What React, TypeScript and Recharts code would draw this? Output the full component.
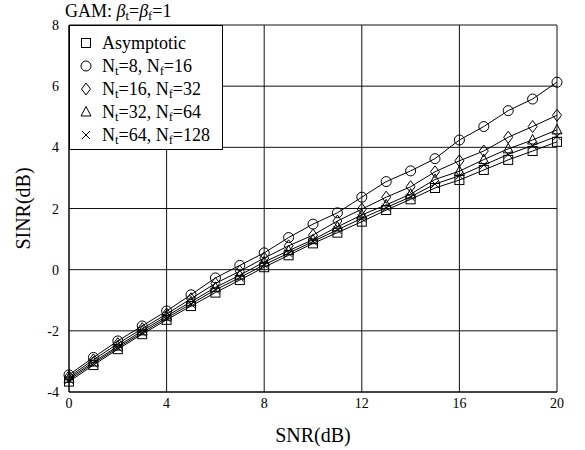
import { LineChart, Line, XAxis, YAxis, CartesianGrid, Legend } from "recharts";

const snr = [0, 1, 2, 3, 4, 5, 6, 7, 8, 9, 10, 11, 12, 13, 14, 15, 16, 17, 18, 19, 20];
const asymptotic = [-3.66, -3.12, -2.6, -2.11, -1.64, -1.19, -0.75, -0.34, 0.08, 0.47, 0.86, 1.21, 1.57, 1.95, 2.3, 2.67, 2.93, 3.26, 3.59, 3.88, 4.18];
const n8 = [-3.44, -2.87, -2.33, -1.84, -1.35, -0.82, -0.27, 0.14, 0.55, 1.05, 1.49, 1.86, 2.37, 2.88, 3.23, 3.63, 4.24, 4.68, 5.2, 5.58, 6.13];
const n16 = [-3.5, -2.95, -2.42, -1.93, -1.45, -0.95, -0.45, -0.05, 0.38, 0.78, 1.13, 1.59, 1.98, 2.37, 2.71, 3.2, 3.56, 3.88, 4.33, 4.68, 5.05];
const n32 = [-3.55, -3.02, -2.5, -2.0, -1.52, -1.05, -0.58, -0.18, 0.25, 0.62, 0.98, 1.4, 1.79, 2.12, 2.47, 2.95, 3.22, 3.6, 3.95, 4.24, 4.57];
const n64 = [-3.6, -3.07, -2.55, -2.06, -1.58, -1.12, -0.66, -0.26, 0.16, 0.54, 0.92, 1.3, 1.68, 2.03, 2.38, 2.8, 3.07, 3.42, 3.77, 4.06, 4.36];

const xTicks = [0, 4, 8, 12, 16, 20];
const yTicks = [-4, -2, 0, 2, 4, 6, 8];

const SERIF = "Liberation Serif";

const data = snr.map((x, i) => ({
  snr: x,
  asym: asymptotic[i],
  n8: n8[i],
  n16: n16[i],
  n32: n32[i],
  n64: n64[i],
}));

type Shape = "square" | "circle" | "diamond" | "triangle" | "cross";

function Marker({ cx, cy, shape }: { cx: number; cy: number; shape: Shape }) {
  const s = { fill: "none", stroke: "#000", strokeWidth: 1 };
  if (shape === "square") return <rect x={cx - 4.5} y={cy - 4.5} width={9} height={9} {...s} />;
  if (shape === "circle") return <circle cx={cx} cy={cy} r={5} {...s} />;
  if (shape === "diamond")
    return <polygon points={`${cx},${cy - 6} ${cx + 4.5},${cy} ${cx},${cy + 6} ${cx - 4.5},${cy}`} {...s} />;
  if (shape === "triangle")
    return <polygon points={`${cx},${cy - 5.5} ${cx + 5},${cy + 4} ${cx - 5},${cy + 4}`} {...s} />;
  return (
    <path d={`M${cx - 4},${cy - 4}L${cx + 4},${cy + 4}M${cx - 4},${cy + 4}L${cx + 4},${cy - 4}`} {...s} />
  );
}

const series: { key: string; shape: Shape; label: React.ReactNode }[] = [
  { key: "asym", shape: "square", label: "Asymptotic" },
  { key: "n8", shape: "circle", label: <>N<sub>t</sub>=8, N<sub>f</sub>=16</> },
  { key: "n16", shape: "diamond", label: <>N<sub>t</sub>=16, N<sub>f</sub>=32</> },
  { key: "n32", shape: "triangle", label: <>N<sub>t</sub>=32, N<sub>f</sub>=64</> },
  { key: "n64", shape: "cross", label: <>N<sub>t</sub>=64, N<sub>f</sub>=128</> },
];

function LegendBox() {
  return (
    <div
      style={{
        border: "1px solid #000",
        background: "#fff",
        width: 154,
        height: 125,
        boxSizing: "border-box",
        paddingTop: 5,
        fontSize: 18,
        fontFamily: SERIF,
        color: "#000",
      }}
    >
      {series.map((s) => (
        <div key={s.key} style={{ display: "flex", alignItems: "center", height: 23, lineHeight: "18px" }}>
          <svg width={32} height={16} style={{ flex: "none" }}>
            <Marker cx={16} cy={8} shape={s.shape} />
          </svg>
          <span style={{ whiteSpace: "nowrap" }}>{s.label}</span>
        </div>
      ))}
    </div>
  );
}

function XTick({ x, y, payload }: any) {
  return (
    <text x={x} y={y + 16} textAnchor="middle" fontFamily={SERIF} fontSize={14} fill="#000">
      {payload.value}
    </text>
  );
}

function YTick({ x, y, payload }: any) {
  return (
    <text x={x - 1} y={y + 5} textAnchor="end" fontFamily={SERIF} fontSize={14} fill="#000">
      {payload.value}
    </text>
  );
}

function YLabel({ viewBox }: any) {
  const cx = 30;
  const cy = viewBox.y + viewBox.height / 2;
  return (
    <text x={cx} y={cy} transform={`rotate(-90 ${cx} ${cy})`} textAnchor="middle" fontFamily={SERIF} fontSize={20} fill="#000">
      SINR(dB)
    </text>
  );
}

function XLabel({ viewBox }: any) {
  const cx = viewBox.x + viewBox.width / 2;
  return (
    <text x={cx} y={442} textAnchor="middle" fontFamily={SERIF} fontSize={20} fill="#000">
      SNR(dB)
    </text>
  );
}

export default function App() {
  return (
    <div style={{ position: "absolute", left: 0, top: 0, width: 585, height: 450, background: "#fff", fontFamily: SERIF }}>
      <style>{`sub{font-size:0.7em;vertical-align:-0.25em;line-height:0}`}</style>
      <div style={{ position: "absolute", left: 65, top: 1, fontSize: 18, color: "#000", zIndex: 2, whiteSpace: "nowrap" }}>
        GAM: <i>β</i><sub>t</sub>=<i>β</i><sub>f</sub>=1
      </div>
      <LineChart width={585} height={450} data={data} margin={{ top: 25, right: 28, bottom: 0, left: 0 }}>
        <CartesianGrid stroke="#111" strokeWidth={1} />
        <XAxis
          dataKey="snr"
          type="number"
          domain={[0, 20]}
          ticks={xTicks}
          height={58}
          tickSize={0}
          tickMargin={0}
          axisLine={{ stroke: "#000" }}
          tick={<XTick />}
          label={<XLabel />}
        />
        <YAxis
          type="number"
          domain={[-4, 8]}
          ticks={yTicks}
          width={69}
          tickSize={0}
          tickMargin={9}
          axisLine={{ stroke: "#000" }}
          tick={<YTick />}
          label={<YLabel />}
        />
        <Legend
          layout="vertical"
          align="center"
          verticalAlign="middle"
          content={() => <LegendBox />}
          wrapperStyle={{ left: 69, top: 25, width: 154 }}
        />
        {series.map((s) => (
          <Line
            key={s.key}
            dataKey={s.key}
            type="linear"
            stroke="#000"
            strokeWidth={1}
            isAnimationActive={false}
            dot={(p: any) => <Marker key={`${s.key}-${p.index}`} cx={p.cx} cy={p.cy} shape={s.shape} />}
            activeDot={false}
          />
        ))}
      </LineChart>
    </div>
  );
}
